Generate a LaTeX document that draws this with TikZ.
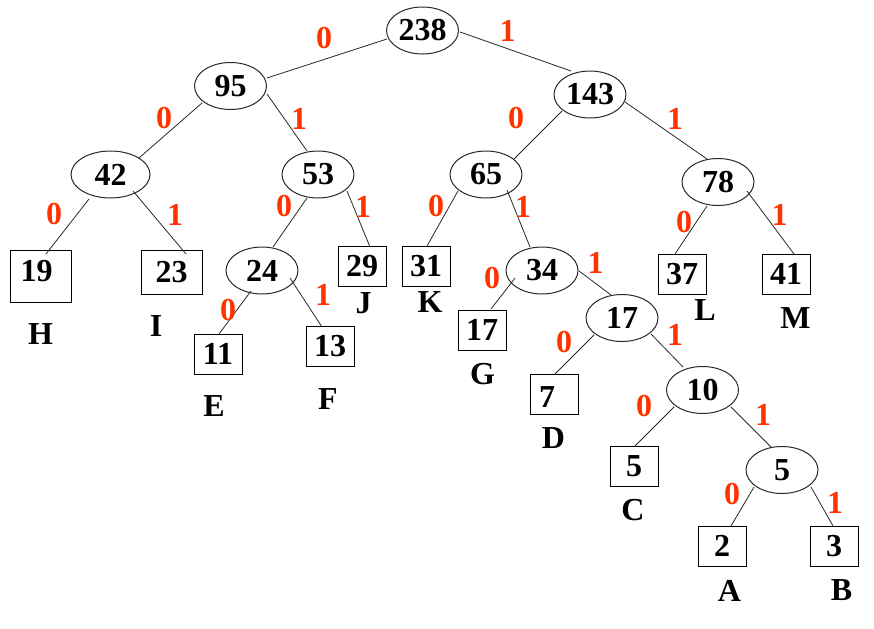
\documentclass[tikz,border=0pt]{standalone}
\usepackage{fontspec}
\setmainfont{Liberation Serif}
\usetikzlibrary{shapes.geometric}
\definecolor{bitred}{RGB}{255,51,0}
\definecolor{edgegray}{RGB}{40,40,40}
\begin{document}
\begin{tikzpicture}[x=0.75pt,y=-0.75pt,
  txt/.style={font=\fontsize{24}{28}\selectfont\bfseries, inner sep=0pt},
  inode/.style={txt, ellipse, draw=edgegray, line width=0.75pt, minimum width=54pt, minimum height=35.25pt},
  leaf/.style={txt, rectangle, draw=black, line width=0.75pt, minimum width=36pt, minimum height=30pt},
  bit/.style={txt, text=bitred},
  sym/.style={txt},
  edge/.style={draw=edgegray, line width=0.6pt}]
\useasboundingbox (0,0) rectangle (874,628);

% internal nodes
\node[inode] (n238) at (422.5,30.5) {238};
\node[inode] (n95)  at (230.5,86) {95};
\node[inode] (n143) at (590,94.5) {143};
\node[inode, minimum width=59.25pt] (n42) at (110.5,174.5) {42};
\node[inode] (n53)  at (318,174.5) {53};
\node[inode] (n65)  at (486,174.5) {65};
\node[inode] (n78)  at (718,182) {78};
\node[inode] (n24)  at (262,270.5) {24};
\node[inode] (n34)  at (542,270.5) {34};
\node[inode] (n17)  at (622,318) {17};
\node[inode] (n10)  at (702.5,390) {10};
\node[inode] (n5)   at (782,470) {5};

% leaves
\node[leaf, minimum width=45.75pt, minimum height=39pt] (b19) at (40.5,276) {};
\node[txt] (t19) at (36.5,271) {19};
\node[leaf, minimum width=45.75pt, minimum height=33pt] (b23) at (171.5,272) {23};
\node[leaf] (b29) at (362,266) {29};
\node[leaf] (b31) at (426,266) {31};
\node[leaf] (b11) at (218,354) {11};
\node[leaf] (b13) at (330,346) {13};
\node[leaf] (b17) at (482,330) {17};
\node[leaf] (b37) at (682,274) {37};
\node[leaf] (b41) at (786,274) {41};
\node[leaf] (b7)  at (554,394) {};
\node[txt] (t7) at (547,397) {7};
\node[leaf] (b5)  at (634,466) {5};
\node[leaf] (b2)  at (722,546) {2};
\node[leaf] (b3)  at (834,546) {3};

% symbols
\node[sym] (sH) at (40.5,334.5) {H};
\node[sym] (sI) at (156,326.5) {I};
\node[sym] (sE) at (214,406.5) {E};
\node[sym] (sF) at (328,399) {F};
\node[sym] (sJ) at (363.5,303) {J};
\node[sym] (sK) at (430,302) {K};
\node[sym] (sL) at (705,310.5) {L};
\node[sym] (sM) at (795.5,318) {M};
\node[sym] (sG) at (482.5,374.5) {G};
\node[sym] (sD) at (553.5,438.5) {D};
\node[sym] (sC) at (633,510.5) {C};
\node[sym] (sA) at (729.5,590.5) {A};
\node[sym] (sB) at (841.5,590.5) {B};

% edges
\draw[edge] ([shift={(-35.5,8.5)}]n238.center) -- ([shift={(36.5,-8)}]n95.center);
\draw[edge] ([shift={(37.5,1.5)}]n238.center) -- ([shift={(-19,-23.5)}]n143.center);
\draw[edge] ([shift={(-28.5,17)}]n95.center) -- ([shift={(28.5,-16.5)}]n42.center);
\draw[edge] ([shift={(36.5,8)}]n95.center) -- ([shift={(-11,-23.5)}]n53.center);
\draw[edge] ([shift={(-21.5,24.5)}]n42.center) -- ([shift={(5.5,-22)}]b19.center);
\draw[edge] ([shift={(22.5,16.5)}]n42.center) -- ([shift={(14.5,-18)}]b23.center);
\draw[edge] ([shift={(-11,23.5)}]n53.center) -- ([shift={(11,-23.5)}]n24.center);
\draw[edge] ([shift={(29,16.5)}]n53.center) -- ([shift={(8,-19)}]b29.center);
\draw[edge] ([shift={(-11,20.5)}]n24.center) -- ([shift={(1,-20)}]b11.center);
\draw[edge] ([shift={(28,7.5)}]n24.center) -- ([shift={(-8,-19)}]b13.center);
\draw[edge] ([shift={(-28,16.5)}]n143.center) -- ([shift={(28,-15.5)}]n65.center);
\draw[edge] ([shift={(35,7.5)}]n143.center) -- ([shift={(-11,-23)}]n78.center);
\draw[edge] ([shift={(-28,16.5)}]n65.center) -- ([shift={(1,-20)}]b31.center);
\draw[edge] ([shift={(21,15.5)}]n65.center) -- ([shift={(-12,-23.5)}]n34.center);
\draw[edge] ([shift={(-11,24)}]n78.center) -- ([shift={(-7,-20)}]b37.center);
\draw[edge] ([shift={(29,9)}]n78.center) -- ([shift={(8,-20)}]b41.center);
\draw[edge] ([shift={(-27,7.5)}]n34.center) -- ([shift={(9,-21)}]b17.center);
\draw[edge] ([shift={(37,0.5)}]n34.center) -- ([shift={(-11,-23)}]n17.center);
\draw[edge] ([shift={(-28,17)}]n17.center) -- ([shift={(1,-20)}]b7.center);
\draw[edge] ([shift={(29,16)}]n17.center) -- ([shift={(-19.5,-23)}]n10.center);
\draw[edge] ([shift={(-28.5,17)}]n10.center) -- ([shift={(1,-20)}]b5.center);
\draw[edge] ([shift={(28.5,17)}]n10.center) -- ([shift={(-11,-23)}]n5.center);
\draw[edge] ([shift={(-28,17)}]n5.center) -- ([shift={(9,-20)}]b2.center);
\draw[edge] ([shift={(29,17)}]n5.center) -- ([shift={(-1,-20)}]b3.center);

% bit labels
\node[bit] (l238a) at (324,38) {0};
\node[bit] (l238b) at (507.5,30.5) {1};
\node[bit] (l95a) at (164,118.5) {0};
\node[bit] (l95b) at (299,118.5) {1};
\node[bit] (l42a) at (54,214.5) {0};
\node[bit] (l42b) at (175,214.5) {1};
\node[bit] (l53a) at (284,206.5) {0};
\node[bit] (l53b) at (363,206.5) {1};
\node[bit] (l24a) at (228,310) {0};
\node[bit] (l24b) at (323,294.5) {1};
\node[bit] (l143a) at (516,118.5) {0};
\node[bit] (l143b) at (675,118.5) {1};
\node[bit] (l65a) at (436,206.5) {0};
\node[bit] (l65b) at (523,206.5) {1};
\node[bit] (l78a) at (684,222.5) {0};
\node[bit] (l78b) at (779.5,214.5) {1};
\node[bit] (l34a) at (492,278.5) {0};
\node[bit] (l34b) at (595.5,262.5) {1};
\node[bit] (l17a) at (564,342.5) {0};
\node[bit] (l17b) at (675,334.5) {1};
\node[bit] (l10a) at (644,406.5) {0};
\node[bit] (l10b) at (763,414.5) {1};
\node[bit] (l5a) at (732,494.5) {0};
\node[bit] (l5b) at (835,502.5) {1};
\end{tikzpicture}
\end{document}
